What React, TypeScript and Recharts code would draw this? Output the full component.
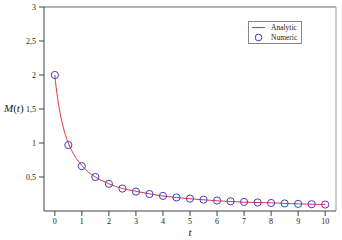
import { ComposedChart, Line, Scatter, XAxis, YAxis, ReferenceLine, Label } from 'recharts';

const tAnalytic = [0, 0.05, 0.1, 0.15, 0.2, 0.3, 0.4, 0.5, 0.6, 0.8, 1, 1.25, 1.5, 2, 2.5, 3, 4, 5, 6, 7, 8, 9, 10];
const mAnalytic = [2, 1.82, 1.67, 1.54, 1.43, 1.25, 1.11, 1.0, 0.91, 0.77, 0.67, 0.57, 0.5, 0.4, 0.33, 0.29, 0.22, 0.18, 0.15, 0.13, 0.12, 0.105, 0.095];

const tNumeric = [0, 0.5, 1, 1.5, 2, 2.5, 3, 3.5, 4, 4.5, 5, 5.5, 6, 6.5, 7, 7.5, 8, 8.5, 9, 9.5, 10];
const mNumeric = [2, 0.97, 0.66, 0.5, 0.4, 0.33, 0.285, 0.25, 0.222, 0.2, 0.182, 0.167, 0.154, 0.143, 0.133, 0.125, 0.118, 0.111, 0.105, 0.1, 0.095];

const xTicks = [0, 1, 2, 3, 4, 5, 6, 7, 8, 9, 10];
const yTicks = [0.5, 1, 1.5, 2, 2.5, 3];

const analytic = tAnalytic.map((t, i) => ({ t, m: mAnalytic[i] }));
const numeric = tNumeric.map((t, i) => ({ t, m: mNumeric[i] }));

const xMinor: number[] = [];
for (let v = -0.25; v <= 10.25; v += 0.25) xMinor.push(v);
const yMinor: number[] = [];
for (let v = 0.25; v <= 3; v += 0.25) yMinor.push(v);

const font = '"Liberation Serif", "DejaVu Serif", serif';
const red = '#d93a3a';
const blue = '#4040d0';
const axisColor = '#444';

function LegendBox() {
  return (
    <div
      style={{
        position: 'absolute',
        left: 248,
        top: 21,
        border: '1px solid #888',
        background: '#fff',
        fontFamily: font,
        fontSize: 7.5,
        color: '#222',
        padding: '1px 4px 1px 3px',
        lineHeight: '9.5px',
      }}
    >
      <div style={{ display: 'flex', alignItems: 'center' }}>
        <svg width={14} height={9}>
          <line x1={0} y1={4.5} x2={13} y2={4.5} stroke={red} strokeWidth={1} />
        </svg>
        <span style={{ marginLeft: 5 }}>Analytic</span>
      </div>
      <div style={{ display: 'flex', alignItems: 'center' }}>
        <svg width={14} height={9}>
          <circle cx={6.5} cy={4.5} r={3.3} fill="none" stroke={blue} strokeWidth={1} />
        </svg>
        <span style={{ marginLeft: 5 }}>Numeric</span>
      </div>
    </div>
  );
}

const fmt = (v: number) => String(v).replace('.', ',');

export default function App() {
  return (
    <div style={{ position: 'absolute', left: 0, top: 0, width: 342, height: 240, background: '#fff' }}>
      <ComposedChart
        width={342}
        height={240}
        margin={{ top: 7, right: 6, bottom: 0, left: 0 }}
        style={{ fontFamily: font }}
      >
        <XAxis
          xAxisId="minor"
          type="number"
          dataKey="t"
          domain={[-0.4, 10.4]}
          ticks={xMinor}
          tick={false}
          tickSize={3}
          height={0}
          stroke={axisColor}
          allowDataOverflow
        />
        <XAxis
          type="number"
          dataKey="t"
          domain={[-0.4, 10.4]}
          ticks={xTicks}
          tickSize={5}
          height={29}
          stroke={axisColor}
          tick={{ fontFamily: font, fontSize: 8, fill: '#222' }}
          tickMargin={2}
          allowDataOverflow
        >
          <Label
            content={() => (
              <text x={190} y={236} fontFamily={font} fontSize={11} fontStyle="italic" fill="#222" textAnchor="middle">
                t
              </text>
            )}
          />
        </XAxis>
        <YAxis
          yAxisId="minor"
          type="number"
          domain={[0, 3]}
          ticks={yMinor}
          tick={false}
          tickSize={3}
          width={0}
          stroke={axisColor}
        />
        <YAxis
          type="number"
          domain={[0, 3]}
          ticks={yTicks}
          tickSize={5}
          width={44}
          stroke={axisColor}
          tickFormatter={fmt}
          tick={{ fontFamily: font, fontSize: 8, fill: '#222' }}
          tickMargin={3}
        >
          <Label
            content={() => (
              <text x={4} y={112} fontFamily={font} fontSize={11} fill="#222">
                <tspan fontStyle="italic">M</tspan>
                <tspan>(</tspan>
                <tspan fontStyle="italic">t</tspan>
                <tspan>)</tspan>
              </text>
            )}
          />
        </YAxis>
        <ReferenceLine y={3} stroke="#999" strokeWidth={1.5} />
        <ReferenceLine x={10.4} stroke="#999" strokeWidth={1} />
        <Line
          data={analytic}
          dataKey="m"
          type="monotone"
          stroke={red}
          strokeWidth={1}
          dot={false}
          isAnimationActive={false}
          name="Analytic"
        />
        <Scatter
          data={numeric}
          dataKey="m"
          isAnimationActive={false}
          name="Numeric"
          shape={(p: any) => <circle cx={p.cx} cy={p.cy} r={3.6} fill="none" stroke={blue} strokeWidth={1} />}
        />
      </ComposedChart>
      <LegendBox />
    </div>
  );
}
